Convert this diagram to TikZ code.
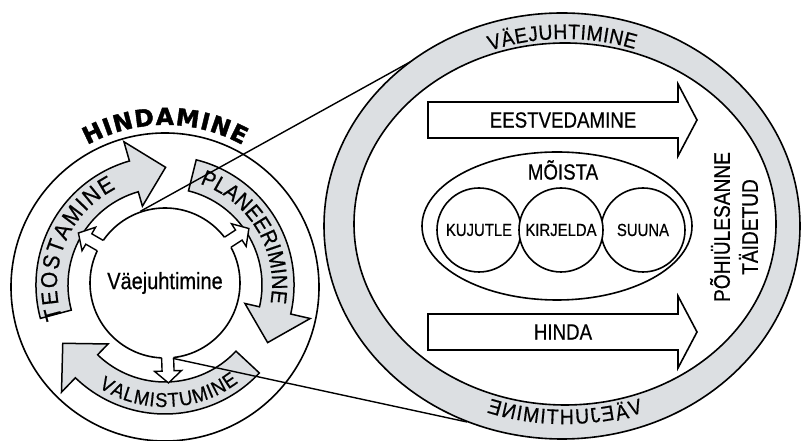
\documentclass[tikz,border=0pt]{standalone}
\usepackage{fontspec}
\setmainfont{Liberation Sans}[FakeStretch=0.85, FakeBold=0.6]
\newfontfamily\arcfont{Liberation Sans}[FakeStretch=0.92, FakeBold=0.6]
\newfontfamily\hfont{DejaVu Sans}[FakeBold=1.6]
\usepackage{graphicx}
\usetikzlibrary{decorations.text}
\definecolor{ringgray}{RGB}{220,223,226}
\newcommand\fA{\fontsize{22}{22}\selectfont}
\newcommand\fT{\arcfont\fontsize{23}{23}\selectfont}
\newcommand\fP{\arcfont\fontsize{22}{22}\selectfont}
\newcommand\fV{\arcfont\fontsize{20}{20}\selectfont}
\newcommand\fR{\arcfont\fontsize{21}{21}\selectfont}
\newcommand\fH{\hfont\bfseries\fontsize{23.5}{23.5}\selectfont}
\newcommand\myGArrow[2]{%
  \draw[band] (#1:129) arc[start angle=#1, end angle=#2, radius=129pt]
    -- (#2:149) -- ({#2-16.3}:117.7) -- (#2:82) -- (#2:97)
    arc[start angle=#2, end angle=#1, radius=97pt] -- cycle;}
\newcommand\myWArrow[1]{%
  \begin{scope}[shift={(165,158)}, rotate=#1]
    \fill[white] (70,-6) -- (88,-6) -- (88,-13.5) -- (100,0) -- (88,13.5) -- (88,6) -- (70,6) -- cycle;
    \draw[line width=1.4pt, line join=miter] (74.76,-6) -- (88,-6) -- (88,-13.5) -- (100,0) -- (88,13.5) -- (88,6) -- (74.76,6);
  \end{scope}}
\tikzset{
  outl/.style={draw, line width=1.6pt},
  band/.style={fill=ringgray, draw, line width=1.5pt, line join=miter},
  boxarrow/.style={fill=white, draw, line width=1.6pt, line join=miter},
  lbl/.style={font=\fA, inner sep=0pt},
  smalllbl/.style={font=\fontsize{17.5}{17.5}\selectfont, inner sep=0pt},
  roundbox/.style={circle, draw, line width=1.6pt, minimum size=84pt, inner sep=0pt, fill=white},
  ztline/.style={line width=1.4pt},
}
\begin{document}
\begin{tikzpicture}[x=1pt,y=1pt]
\useasboundingbox (0,0) rectangle (801,441);
\fill[white] (0,0) rectangle (801,441);

% ---------- big ring ----------
\path[fill=ringgray, even odd rule] (562,215) ellipse [x radius=238pt, y radius=213pt]
      (565,217) ellipse [x radius=211pt, y radius=181pt];
\draw[outl] (562,215) ellipse [x radius=238pt, y radius=213pt];
\draw[outl] (565,217) ellipse [x radius=211pt, y radius=181pt];
\coordinate (t1) at (410,379);
\coordinate (t2) at (467,19);

% top ring text
\path[decorate, decoration={text along path, text={|\fR|VÄEJUHTIMINE}, text align={fit to path}}]
  (565,217) ++(110.5:214 and 185) arc[start angle=110.5, end angle=71, x radius=214pt, y radius=185pt];

% bottom ring text (mirrored)
\foreach \c/\o [count=\k] in {E/-71.3,N/-56.5,I/-45.8,M/-33.9,I/-22.0,T/-12.5,H/1.8,U/17.2,J/30.3,E/42.8,Ä/57.1,V/71.3}{
  \pgfmathsetmacro\tt{270+\o*0.2558}
  \pgfmathsetmacro\rt{atan2(193*cos(\tt),-224*sin(\tt))}
  \node[inner sep=0pt, font=\fR, rotate=\rt] (bl\k) at ({565+224*cos(\tt)},{217+193*sin(\tt)}) {\reflectbox{\c}};
}

% arrows inside
\draw[boxarrow] (428,339) -- (678,339) -- (678,357) -- (697,321) -- (678,285) -- (678,303) -- (428,303) -- cycle;
\node[lbl] (eest) at (563,321) {EESTVEDAMINE};
\draw[boxarrow] (428,127) -- (678,127) -- (678,145) -- (697,109) -- (678,73) -- (678,91) -- (428,91) -- cycle;
\node[lbl] (hinda) at (563,109) {HINDA};

% MOISTA
\draw[outl] (557,215) ellipse [x radius=135pt, y radius=74pt];
\node[lbl] (moista) at (563,271) {MÕISTA};
\node[roundbox, smalllbl] (kuj) at (479,211) {KUJUTLE};
\node[roundbox, smalllbl] (suu) at (643,211) {SUUNA};
\node[roundbox, smalllbl] (kir) at (561,211) {KIRJELDA};

\node[lbl, rotate=90, align=center, font=\fontsize{22.5}{28}\selectfont] (pohi) at (734,214) {PÕHIÜLESANNE\\TÄIDETUD};

% ---------- left cycle ----------
\draw[outl] (165,154) circle [radius=154pt];
\begin{scope}[shift={(165,156)}]
  \myGArrow{195}{106}
  \myGArrow{76}{-13}
  \myGArrow{317}{226}
  \path[decorate, decoration={text along path, text={|\fT|TEOSTAMINE}, text align={fit to path}}]
    (198:108) arc[start angle=198, end angle=117, radius=108pt];
  \path[decorate, decoration={text along path, text={|\fP|PLANEERIMINE}, text align={fit to path}}]
    (71:107) arc[start angle=71, end angle=-8, radius=107pt];
  \path[decorate, decoration={text along path, text={|\fV|VALMISTUMINE}, text align={fit to path}}]
    (237:122) arc[start angle=237, end angle=307, radius=122pt];
  \path[decorate, decoration={text along path, text={|\fH|HINDAMINE}, text align={fit to path}}]
    (119:160) arc[start angle=119, end angle=61, radius=160pt];
\end{scope}
\node[circle, draw, line width=1.6pt, minimum size=150pt, inner sep=0pt, fill=white, font=\fontsize{23.5}{23.5}\selectfont] (core) at (165,158) {Väejuhtimine};
\myWArrow{150}
\myWArrow{33}
\myWArrow{272}

% zoom lines
\draw[ztline] (core.109) -- (t1);
\draw[ztline] (core.-84) -- (t2);
\end{tikzpicture}
\end{document}
